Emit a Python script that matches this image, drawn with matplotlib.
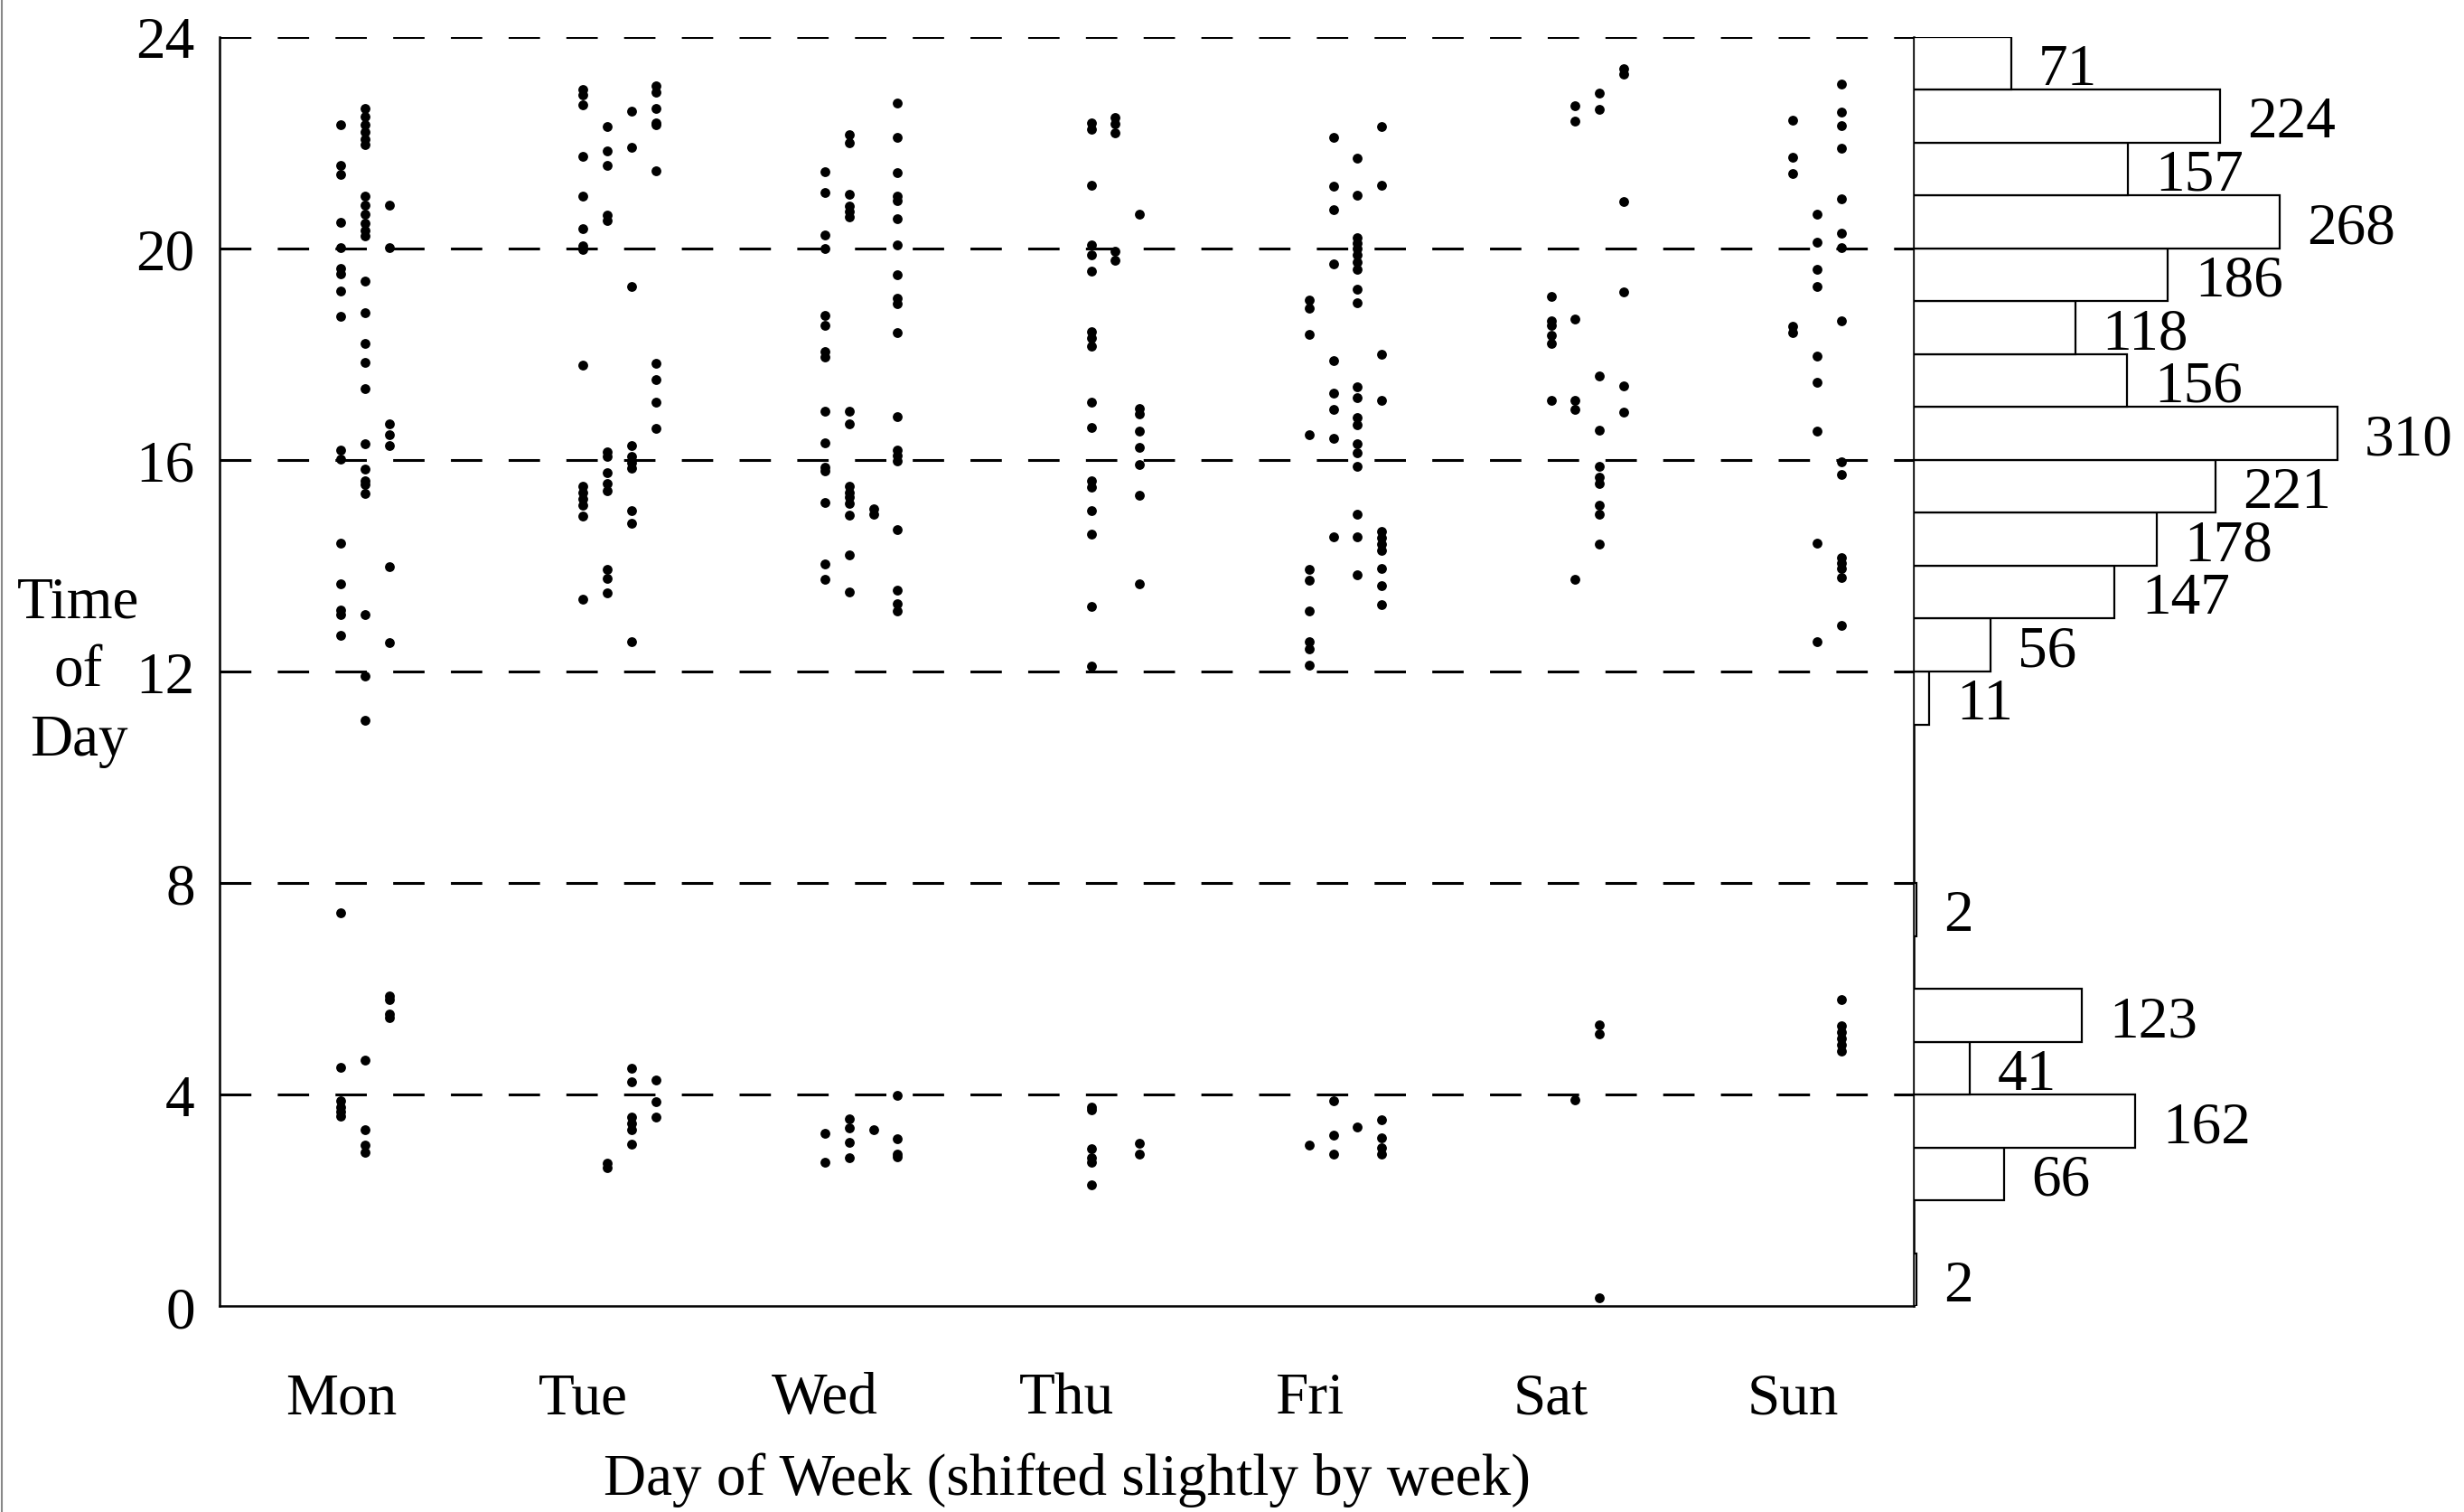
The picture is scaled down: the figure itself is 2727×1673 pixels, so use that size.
import matplotlib
matplotlib.use("Agg")
import matplotlib.pyplot as plt
from matplotlib.lines import Line2D

plt.rcParams['font.family'] = ['Liberation Serif', 'DejaVu Serif']
plt.rcParams['lines.scale_dashes'] = False

# ---------------- data ----------------
days = ["Mon", "Tue", "Wed", "Thu", "Fri", "Sat", "Sun"]
week_shift = [0.0, 0.1, 0.2, 0.3]

# hours of day, one list per week (shift 0, 0.1, 0.2, 0.3)
mon = [
    [22.34, 21.57, 21.39, 20.49, 20.02, 19.62, 19.51, 19.2, 18.71, 16.18, 16.01, 14.43, 13.66,
     13.16, 13.08, 12.69, 7.43, 4.52, 3.88, 3.76, 3.68, 3.59],
    [22.64, 22.49, 22.33, 22.2, 22.06, 21.96, 20.98, 20.82, 20.65, 20.48, 20.34, 20.23, 19.38,
     18.78, 18.21, 17.84, 17.35, 16.31, 15.83, 15.61, 15.53, 15.37, 13.08, 11.91, 11.07, 4.66,
     3.33, 3.04, 2.91],
    [20.82, 20.02, 16.68, 16.47, 16.28, 13.99, 12.54, 5.87, 5.8, 5.53, 5.46],
    [],
]
tue = [
    [23.0, 22.9, 22.72, 21.74, 20.99, 20.37, 20.05, 19.98, 17.8, 15.5, 15.38, 15.27, 15.14,
     14.94, 13.36],
    [22.3, 21.85, 21.57, 20.63, 20.53, 16.15, 16.06, 15.76, 15.56, 15.41, 13.93, 13.76, 13.49,
     2.71, 2.62],
    [22.59, 21.91, 19.28, 16.28, 16.06, 15.95, 15.85, 15.04, 14.8, 12.57, 4.5, 4.24, 3.57, 3.45,
     3.34, 3.07],
    [23.08, 22.95, 22.64, 22.38, 22.33, 21.47, 17.82, 17.52, 17.09, 16.59, 4.28, 3.87, 3.58],
]
wed = [
    [21.45, 21.05, 20.26, 20.0, 18.73, 18.54, 18.05, 17.95, 16.92, 16.33, 15.87, 15.8, 15.2,
     14.04, 13.75, 3.26, 2.73],
    [22.15, 21.99, 21.03, 20.8, 20.69, 20.59, 16.92, 16.68, 15.5, 15.39, 15.3, 15.17, 14.96,
     14.2, 13.5, 3.54, 3.37, 3.09, 2.8],
    [15.08, 14.97, 3.33],
    [22.75, 22.1, 21.43, 20.98, 20.9, 20.56, 20.06, 19.5, 19.05, 18.95, 18.41, 16.82, 16.18,
     16.08, 15.98, 14.68, 13.53, 13.28, 13.15, 3.99, 3.17, 2.88, 2.82],
]
thu = [
    [],
    [22.38, 22.25, 21.19, 20.07, 19.87, 19.57, 18.42, 18.3, 18.15, 17.1, 16.62, 15.6, 15.48,
     15.05, 14.6, 13.23, 12.1, 3.77, 3.72, 2.97, 2.81, 2.73, 2.3],
    [22.48, 22.36, 22.18, 19.94, 19.78],
    [20.64, 16.97, 16.87, 16.55, 16.24, 15.92, 15.34, 13.66, 3.08, 2.88],
]
fri = [
    [19.02, 18.87, 18.37, 16.48, 13.93, 13.72, 13.15, 12.56, 12.42, 12.12, 3.04],
    [22.1, 21.17, 20.73, 19.7, 17.87, 17.27, 16.96, 16.4, 14.55, 3.89, 3.23, 2.88],
    [21.7, 21.0, 20.2, 20.1, 20.0, 19.87, 19.74, 19.6, 19.23, 18.97, 17.38, 17.18, 16.8, 16.66,
     16.3, 16.13, 15.88, 14.98, 14.55, 13.82, 3.38],
    [22.3, 21.19, 18.0, 17.12, 14.65, 14.53, 14.41, 14.29, 13.95, 13.63, 13.26, 3.52, 3.18, 3.0,
     2.87],
]
sat = [
    [19.09, 18.63, 18.54, 18.36, 18.2, 17.12],
    [22.69, 22.41, 18.66, 17.12, 16.95, 13.74, 3.9],
    [22.94, 22.62, 17.58, 16.57, 15.88, 15.68, 15.56, 15.15, 14.98, 14.41, 5.32, 5.15, 0.16],
    [23.4, 23.3, 20.89, 19.18, 17.4, 16.9],
]
sun = [
    [22.42, 21.72, 21.42, 18.53, 18.41],
    [20.65, 20.11, 19.6, 19.28, 17.96, 17.46, 16.55, 14.43, 12.57],
    [23.1, 22.58, 22.32, 21.89, 20.94, 20.28, 20.02, 18.63, 15.96, 15.72, 14.15, 14.05, 13.95,
     13.77, 12.87, 5.79, 5.3, 5.18, 5.06, 4.94, 4.82],
    [],
]
day_data = [mon, tue, wed, thu, fri, sat, sun]

# histogram: counts per hour bin [h, h+1)
hist_bins = list(range(24))
hist_counts = [2, 0, 66, 162, 41, 123, 0, 2, 0, 0, 0, 11,
               56, 147, 178, 221, 310, 156, 118, 186, 268, 157, 224, 71]

y_ticks = [0, 4, 8, 12, 16, 20, 24]

# ---------------- figure ----------------
W, H = 2727, 1674
fig = plt.figure(figsize=(W / 100, H / 100), dpi=100)
FS = 47

L, R, T, B = 140 / 1568, 1218 / 1568, 24 / 963, 832 / 963
ax = fig.add_axes([L, 1 - B, R - L, B - T])
hax = fig.add_axes([R, 1 - B, 1 - R, B - T])

for y in y_ticks[1:]:
    ax.axhline(y, color="black", lw=2.2, dashes=(25, 21), zorder=1)

for d, weeks in enumerate(day_data):
    for w, hours in enumerate(weeks):
        if hours:
            ax.plot([d + 1 + week_shift[w]] * len(hours), hours, "o", color="black",
                    markersize=7.8, markeredgewidth=0, zorder=3)

ax.set_xlim(0.5, 7.5)
ax.set_ylim(0, 24)
ax.set_xticks(range(1, 8))
ax.set_xticklabels(days)
ax.set_yticks(y_ticks)
ax.tick_params(axis="both", labelsize=FS, length=0)
ax.tick_params(axis="x", pad=52)
ax.tick_params(axis="y", pad=20)
ax.spines["top"].set_visible(False)
for s in ("left", "bottom", "right"):
    ax.spines[s].set_linewidth(1.8)

# histogram
hax.barh(hist_bins, hist_counts, height=1, align="edge", color="white",
         edgecolor="black", linewidth=1.6)
hax.set_xlim(0, 403)
hax.set_ylim(0, 24)
hax.axis("off")
for b, c in zip(hist_bins, hist_counts):
    if c > 0:
        hax.text(c + 20, b + 0.5, str(c), ha="left", va="center_baseline", fontsize=FS)

fig.text(50 / 1568, 1 - 428 / 963, "Time\nof\nDay", ha="center", va="center",
         fontsize=FS, linespacing=1.37)
fig.text((L + R) / 2, 1 - 942 / 963, "Day of Week (shifted slightly by week)",
         ha="center", va="center", fontsize=FS)

fig.add_artist(Line2D([0.0006, 0.0006], [0, 1], color="#888888", lw=1.5))

fig.savefig("out.png", dpi=100)
